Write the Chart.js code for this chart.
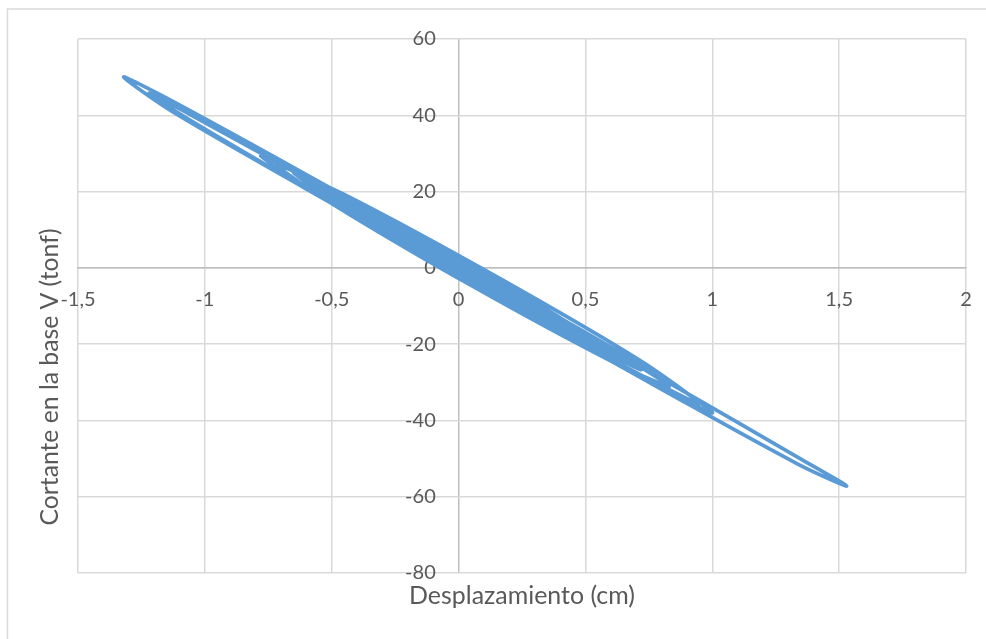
<!DOCTYPE html>
<html>
<head>
<meta charset="utf-8">
<script src="https://cdn.jsdelivr.net/npm/chart.js@4.4.1/dist/chart.umd.min.js"></script>
<style>
html,body{margin:0;padding:0;background:#fff;}
#wrap{position:relative;width:986px;height:639px;}
</style>
</head>
<body>
<div id="wrap"><canvas id="c" width="986" height="639"></canvas></div>
<script>
// Displacement (cm), in time order
const dispCm = [
  0, 0.022, 0.075, 0.128, 0.15,
  0.099, -0.025, -0.149, -0.2,
  -0.127, 0.05, 0.227, 0.3,
  0.2, -0.04, -0.28, -0.38,
  -0.258, 0.035, 0.328, 0.45,
  0.311, -0.025, -0.361, -0.5,
  -0.335, 0.065, 0.465, 0.63,
  0.432, -0.045, -0.522, -0.72,
  -0.493, 0.055, 0.603, 0.83,
  0.594, 0.025, -0.544, -0.78,
  -0.519, 0.11, 0.739, 1.0,
  0.845, 0.42, -0.16, -0.74, -1.165, -1.32,
  -1.129, -0.608, 0.105, 0.818, 1.339, 1.53,
  1.346, 0.843, 0.155, -0.533, -1.036, -1.22,
  -1.075, -0.678, -0.135, 0.408, 0.805, 0.95,
  0.716, 0.15, -0.416, -0.65,
  -0.449, 0.035, 0.519, 0.72,
  0.527, 0.06, -0.407, -0.6,
  -0.432, -0.025, 0.382, 0.55,
  0.379, -0.035, -0.449, -0.62,
  -0.441, -0.01, 0.421, 0.6,
  0.439, 0.05, -0.339, -0.5,
  -0.354, 0, 0.354, 0.5,
  0.346, -0.025, -0.396, -0.55,
  -0.404, -0.05, 0.304, 0.45,
  0.314, -0.015, -0.344, -0.48,
  -0.348, -0.03, 0.288, 0.42,
  0.3, 0.01, -0.28, -0.4,
  -0.29, -0.025, 0.24, 0.35,
  0.255, 0.025, -0.205, -0.3,
  -0.219, -0.025, 0.169, 0.25,
  0.184, 0.025, -0.134, -0.2,
  -0.153, -0.04, 0.073, 0.12,
  0.06, 0
];
// Base shear V (tonf), same order
const shearTonf = [
  0.5, -0.9, -3.1, -4.9, -5.1,
  -2.5, 2.4, 6.8, 8.0,
  4.5, -2.5, -8.8, -10.7,
  -6.1, 3.4, 11.9, 14.6,
  8.3, -3.3, -13.7, -16.7,
  -9.4, 3.9, 15.8, 19.4,
  11.6, -4.0, -18.5, -23.2,
  -14.5, 4.1, 21.3, 27.1,
  16.6, -4.8, -24.5, -31.1,
  -21.0, 0.8, 21.7, 29.4,
  17.8, -6.3, -29.4, -38.0,
  -30.4, -13.9, 8.1, 29.6, 45.0, 50.0,
  41.0, 21.0, -5.9, -32.5, -51.5, -57.2,
  -50.0, -30.7, -4.8, 20.9, 39.4, 45.8,
  39.4, 23.9, 3.3, -16.9, -31.1, -35.6,
  -24.3, -2.3, 18.1, 25.0,
  16.1, -2.5, -20.2, -26.7,
  -18.7, -1.0, 16.3, 22.9,
  16.0, 0.4, -14.5, -20.1,
  -12.2, 4.1, 18.9, 23.5,
  15.3, -1.5, -17.0, -22.1,
  -15.7, -1.0, 13.4, 19.1,
  13.5, 0.1, -13.0, -18.2,
  -11.4, 3.1, 16.5, 20.8,
  14.6, 1.0, -12.0, -16.6,
  -11.3, 1.2, 13.4, 18.3,
  11.6, -1.2, -12.3, -15.3,
  -8.9, 2.8, 12.9, 15.4,
  10.3, -0.1, -9.6, -12.7,
  -8.6, 0.4, 8.7, 11.6,
  7.9, 0.4, -6.6, -9.1,
  -6.1, 0.1, 5.8, 7.9,
  5.9, 1.5, -2.6, -4.0,
  -1.5, 0.5
];
const xAxisTitle = 'Desplazamiento (cm)';
const yAxisTitle = 'Cortante en la base V (tonf)';
const xRange = {min: -1.5, max: 2, step: 0.5};
const yRange = {min: -80, max: 60, step: 20};

const points = dispCm.map((x, i) => ({x: x, y: shearTonf[i]}));
const FONT = 'Lato, "Open Sans", sans-serif';
const TXT = '#595959';
const GRID = '#d9d9d9';
const AXIS = '#bfbfbf';
// y tick labels sit this far (in cm) left of the vertical zero line
const yLabelGap = 0.09;

const decorPlugin = {
  id: 'decor',
  beforeDraw(chart) {
    const ctx = chart.ctx;
    ctx.save();
    ctx.strokeStyle = GRID;
    ctx.lineWidth = 1.5;
    ctx.beginPath();
    ctx.moveTo(7.5, 639);
    ctx.lineTo(7.5, 9);
    ctx.lineTo(986, 9);
    ctx.stroke();
    ctx.restore();
  },
  afterDraw(chart) {
    const ctx = chart.ctx;
    const ca = chart.chartArea;
    ctx.save();
    ctx.fillStyle = TXT;
    ctx.textAlign = 'center';
    ctx.textBaseline = 'middle';
    ctx.font = '20px ' + FONT;
    let w = ctx.measureText(xAxisTitle).width;
    let fs = 20 * 226 / w;
    ctx.font = fs.toFixed(2) + 'px ' + FONT;
    ctx.fillText(xAxisTitle, (ca.left + ca.right) / 2, 596);
    ctx.font = '20px ' + FONT;
    w = ctx.measureText(yAxisTitle).width;
    fs = 20 * 297 / w;
    ctx.font = fs.toFixed(2) + 'px ' + FONT;
    ctx.translate(50, 377);
    ctx.rotate(-Math.PI / 2);
    ctx.fillText(yAxisTitle, 0, 0);
    ctx.restore();
  }
};

const comma = v => String(Math.round(v * 100) / 100).replace('.', ',');

new Chart(document.getElementById('c'), {
  type: 'scatter',
  data: {
    datasets: [{
      data: points,
      showLine: true,
      borderColor: '#5b9bd5',
      backgroundColor: '#5b9bd5',
      borderWidth: 3.75,
      borderCapStyle: 'round',
      borderJoinStyle: 'round',
      pointRadius: 0,
      tension: 0.3,
      fill: false
    }]
  },
  options: {
    responsive: false,
    animation: false,
    layout: {padding: {left: 78, right: 20, top: 39, bottom: 66}},
    plugins: {legend: {display: false}, tooltip: {enabled: false}},
    scales: {
      x: {
        type: 'linear',
        position: {y: 0},
        min: xRange.min, max: xRange.max,
        ticks: {stepSize: xRange.step, callback: comma, color: TXT, font: {family: FONT, size: 20}, padding: 0, maxRotation: 0, autoSkip: false},
        grid: {color: c => (c.tick && c.tick.value === 0 ? AXIS : GRID), lineWidth: 1.5, drawTicks: true, tickLength: 20, tickColor: 'rgba(0,0,0,0)'},
        border: {color: AXIS, width: 1.5}
      },
      y: {
        type: 'linear',
        position: {x: -yLabelGap},
        min: yRange.min, max: yRange.max,
        ticks: {stepSize: yRange.step, callback: comma, color: TXT, font: {family: FONT, size: 20}, padding: 0, autoSkip: false},
        grid: {color: c => (c.tick && c.tick.value === 0 ? AXIS : GRID), lineWidth: 1.5, drawTicks: false},
        border: {display: false}
      }
    }
  },
  plugins: [decorPlugin]
});
</script>
</body>
</html>
